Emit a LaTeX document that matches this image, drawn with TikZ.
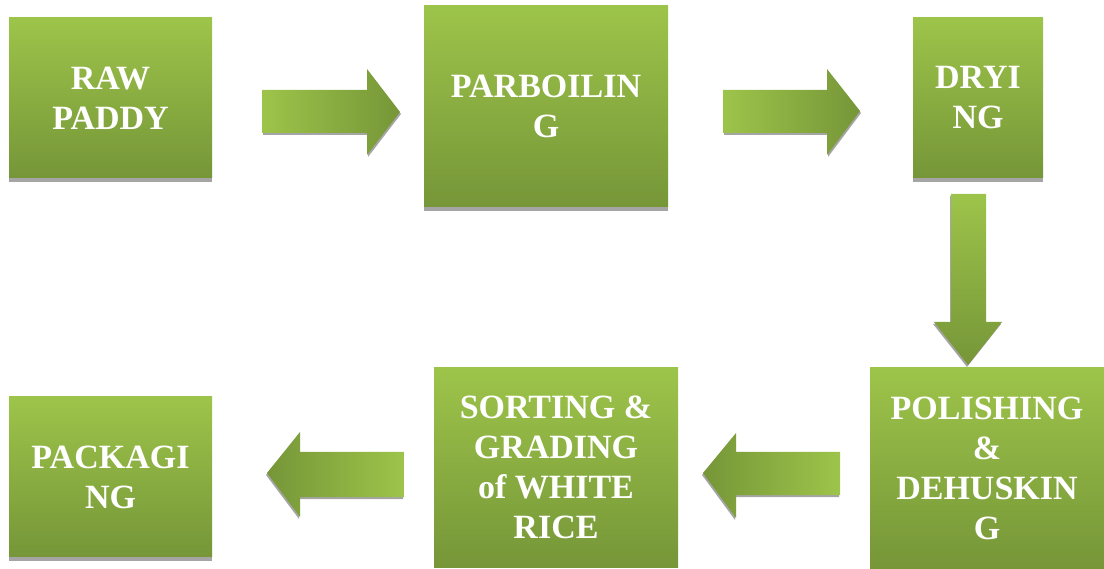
\documentclass[tikz,border=0pt]{standalone}
\usepackage{fontspec}
\setmainfont{Liberation Serif}
\definecolor{leaflight}{RGB}{157,196,74}
\definecolor{leafdark}{RGB}{118,150,56}
\definecolor{shadowgray}{RGB}{165,165,165}
\tikzset{
    stage/.style = {rectangle, inner sep = 0pt, top color = leaflight, bottom color = leafdark,
        text = white, align = center, font = \fontsize{34}{40}\selectfont\bfseries},
    stageshadow/.style = {fill = shadowgray},
    flowright/.style = {left color = leaflight, right color = leafdark},
    flowleft/.style = {left color = leafdark, right color = leaflight},
    flowdown/.style = {top color = leaflight, bottom color = leafdark}
}
\begin{document}
\begin{tikzpicture}[x = 1pt, y = -1pt]
                \useasboundingbox (0,0) rectangle (1104,569);
                % process steps
                \node[stage, minimum width = 203pt, minimum height = 160pt] (raw) at (110.5,98) {RAW\\PADDY};
                \node[stage, minimum width = 244pt, minimum height = 201pt] (parboil) at (546,106.5) {PARBOILIN\\G};
                \node[stage, minimum width = 130pt, minimum height = 160pt] (dry) at (978,98) {DRYI\\NG};
                \node[stage, minimum width = 234pt, minimum height = 200pt] (polish) at (987,468) {POLISHING\\\&\\DEHUSKIN\\G};
                \node[stage, minimum width = 244pt, minimum height = 199pt] (sort) at (556,467.5) {SORTING \&\\GRADING\\of WHITE\\RICE};
                \node[stage, minimum width = 203pt, minimum height = 160pt] (pack) at (110.5,477) {PACKAGI\\NG};
                \begin{scope}[stageshadow]
                    \fill (raw.south west) rectangle ([yshift = -4pt]raw.south east);
                    \fill (parboil.south west) rectangle ([yshift = -4pt]parboil.south east);
                    \fill (dry.south west) rectangle ([yshift = -4pt]dry.south east);
                    \fill (pack.south west) rectangle ([yshift = -4pt]pack.south east);
                \end{scope}
                % block arrows
                \fill[shadowgray, shift = {(1,2)}] (262,90) -- (367,90) -- (367,69) -- (400,112) -- (367,155) -- (367,133) -- (262,133) -- cycle;
                \shade[flowright] (262,90) -- (367,90) -- (367,69) -- (400,112) -- (367,155) -- (367,133) -- (262,133) -- cycle;
                \fill[shadowgray, shift = {(1,2)}] (723,90) -- (827,90) -- (827,69) -- (860,111) -- (827,155) -- (827,133) -- (723,133) -- cycle;
                \shade[flowright] (723,90) -- (827,90) -- (827,69) -- (860,111) -- (827,155) -- (827,133) -- (723,133) -- cycle;
                \fill[shadowgray, shift = {(-1,2)}] (951,194) -- (986,194) -- (986,322) -- (1002,322) -- (968,365) -- (934,322) -- (951,322) -- cycle;
                \shade[flowdown] (951,194) -- (986,194) -- (986,322) -- (1002,322) -- (968,365) -- (934,322) -- (951,322) -- cycle;
                \fill[shadowgray, shift = {(-1,2)}] (840,452) -- (736,452) -- (736,433) -- (703,473) -- (736,518) -- (736,495) -- (840,495) -- cycle;
                \shade[flowleft] (840,452) -- (736,452) -- (736,433) -- (703,473) -- (736,518) -- (736,495) -- (840,495) -- cycle;
                \fill[shadowgray, shift = {(-1,2)}] (404,452) -- (300,452) -- (300,432) -- (267,473) -- (300,517) -- (300,497) -- (404,497) -- cycle;
                \shade[flowleft] (404,452) -- (300,452) -- (300,432) -- (267,473) -- (300,517) -- (300,497) -- (404,497) -- cycle;
\end{tikzpicture}
\end{document}
